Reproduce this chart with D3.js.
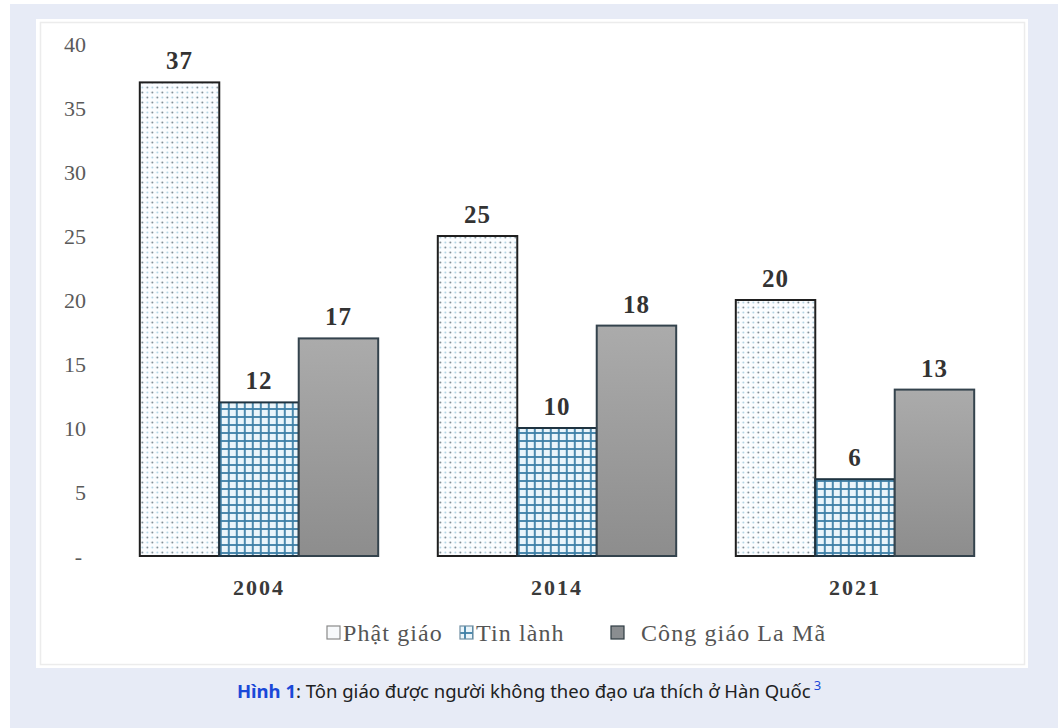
<!DOCTYPE html>
<html>
<head>
<meta charset="utf-8">
<script src="https://cdn.jsdelivr.net/npm/d3@7"></script>
<style>
  body { margin: 0; background: #ffffff; }
  svg { display: block; }
</style>
</head>
<body>
<svg id="chart"></svg>
<script>
// data
const years = ["2004", "2014", "2021"];
const series = ["Phật giáo", "Tin lành", "Công giáo La Mã"];
const phatGiao = [37, 25, 20];
const tinLanh = [12, 10, 6];
const congGiao = [17, 18, 13];
const yTicks = [0, 5, 10, 15, 20, 25, 30, 35, 40];

const valuesBySeries = [phatGiao, tinLanh, congGiao];
const rows = years.map((y, i) => ({
  year: y,
  vals: series.map((s, j) => ({ key: s, idx: j, value: valuesBySeries[j][i] }))
}));

const serif = "'Liberation Serif', 'Times New Roman', serif";

// window
let win = { w: 1058, h: 728 };
const svg = d3.select("#chart").attr("width", win.w).attr("height", win.h);

// page backgrounds
svg.append("rect").attr("x", 10).attr("y", 4).attr("width", win.w - 10).attr("height", win.h - 4)
  .attr("fill", "#e7ebf6");
svg.append("rect").attr("x", 36).attr("y", 19).attr("width", 992).attr("height", 649)
  .attr("fill", "#ffffff");
svg.append("rect").attr("x", 40.5).attr("y", 22.5).attr("width", 984).attr("height", 642)
  .attr("fill", "none").attr("stroke", "#ececec").attr("stroke-width", 1.5);

// patterns
const defs = svg.append("defs");
const dots = defs.append("pattern").attr("id", "dots")
  .attr("patternUnits", "userSpaceOnUse").attr("width", 10).attr("height", 10);
dots.append("rect").attr("width", 10).attr("height", 10).attr("fill", "#fbfdff");
[[2.5, 2.5, "#6f7f88"], [7.5, 7.5, "#6f7f88"], [7.5, 2.5, "#a9cfe0"], [2.5, 7.5, "#a9cfe0"]]
  .forEach(d => dots.append("circle").attr("cx", d[0]).attr("cy", d[1]).attr("r", 0.9).attr("fill", d[2]));

const grid = defs.append("pattern").attr("id", "grid")
  .attr("patternUnits", "userSpaceOnUse").attr("width", 8).attr("height", 8);
grid.append("rect").attr("width", 8).attr("height", 8).attr("fill", "#eaf5fb");
grid.append("line").attr("x1", 0).attr("x2", 8).attr("y1", 1).attr("y2", 1)
  .attr("stroke", "#3b7ea6").attr("stroke-width", 1.8);
grid.append("line").attr("x1", 1).attr("x2", 1).attr("y1", 0).attr("y2", 8)
  .attr("stroke", "#3b7ea6").attr("stroke-width", 1.8);

const grad = defs.append("linearGradient").attr("id", "grayGrad")
  .attr("x1", 0).attr("x2", 0).attr("y1", 0).attr("y2", 1);
grad.append("stop").attr("offset", "0%").attr("stop-color", "#ababab");
grad.append("stop").attr("offset", "100%").attr("stop-color", "#8d8d8d");

const fills = ["url(#dots)", "url(#grid)", "url(#grayGrad)"];
const strokes = ["#1f1f1f", "#1f3340", "#34434d"];

// scales
const y = d3.scaleLinear().domain([0, 40]).range([556, 44]);
const x0 = d3.scaleBand().domain(years).range([110, 1004]).paddingInner(0.2).paddingOuter(0.1);
const x1 = d3.scaleBand().domain(series).range([0, x0.bandwidth()]);

// y axis
const yAxis = svg.append("g").attr("transform", "translate(86,0)")
  .call(d3.axisLeft(y).tickValues(yTicks).tickSize(0).tickPadding(0)
    .tickFormat(d => d === 0 ? "-" : d));
yAxis.select(".domain").remove();
yAxis.selectAll("text")
  .attr("font-family", serif)
  .attr("font-size", 22).attr("fill", "#5a5a5a")
  .attr("dx", d => d === 0 ? -4 : 0);

// bars
const groups = svg.selectAll("g.year").data(rows).enter().append("g")
  .attr("class", "year")
  .attr("transform", d => "translate(" + x0(d.year) + ",0)");

groups.selectAll("rect").data(d => d.vals).enter().append("rect")
  .attr("x", d => x1(d.key))
  .attr("y", d => y(d.value))
  .attr("width", x1.bandwidth())
  .attr("height", d => y(0) - y(d.value))
  .attr("fill", d => fills[d.idx])
  .attr("stroke", d => strokes[d.idx])
  .attr("stroke-width", 2);

groups.selectAll("text.val").data(d => d.vals).enter().append("text")
  .attr("class", "val")
  .attr("x", d => x1(d.key) + x1.bandwidth() / 2)
  .attr("y", d => y(d.value) - 13)
  .attr("text-anchor", "middle")
  .attr("font-family", serif)
  .attr("font-weight", "bold").attr("font-size", 25).attr("fill", "#333333")
  .attr("letter-spacing", 1)
  .text(d => d.value);

// x labels
svg.selectAll("text.xl").data(years).enter().append("text")
  .attr("class", "xl")
  .attr("x", d => x0(d) + x0.bandwidth() / 2)
  .attr("y", 595)
  .attr("text-anchor", "middle")
  .attr("font-family", serif)
  .attr("font-weight", "bold").attr("font-size", 22).attr("fill", "#3a3a3a")
  .attr("letter-spacing", 2)
  .text(d => d);

// legend
const legendX = [327, 460, 611];
const legendTextX = [343, 476, 641];
const legendFill = ["#f7f9fb", "url(#grid)", "#8a8d90"];
const legendStroke = ["#8a8a8a", "#6f8fa3", "#2f3c44"];
series.forEach((s, i) => {
  svg.append("rect")
    .attr("x", legendX[i]).attr("y", 626)
    .attr("width", 13).attr("height", 13)
    .attr("fill", legendFill[i]).attr("stroke", legendStroke[i]).attr("stroke-width", 1.2);
  svg.append("text")
    .attr("x", legendTextX[i]).attr("y", 641)
    .attr("font-family", serif)
    .attr("font-size", 24).attr("fill", "#555555")
    .attr("letter-spacing", 1.1)
    .text(s);
});

// caption
const cap = svg.append("text")
  .attr("x", 529).attr("y", 698)
  .attr("text-anchor", "middle")
  .attr("font-family", "'Noto Sans', 'Open Sans', sans-serif")
  .attr("font-size", 18.5).attr("fill", "#202122");
cap.append("tspan").attr("font-weight", "bold").attr("fill", "#1a48d8").text("Hình 1");
cap.append("tspan").text(": Tôn giáo được người không theo đạo ưa thích ở Hàn Quốc");
cap.append("tspan").attr("fill", "#1a48d8").attr("font-size", 13).attr("dx", 3).attr("dy", -8).text("3");
</script>
</body>
</html>
